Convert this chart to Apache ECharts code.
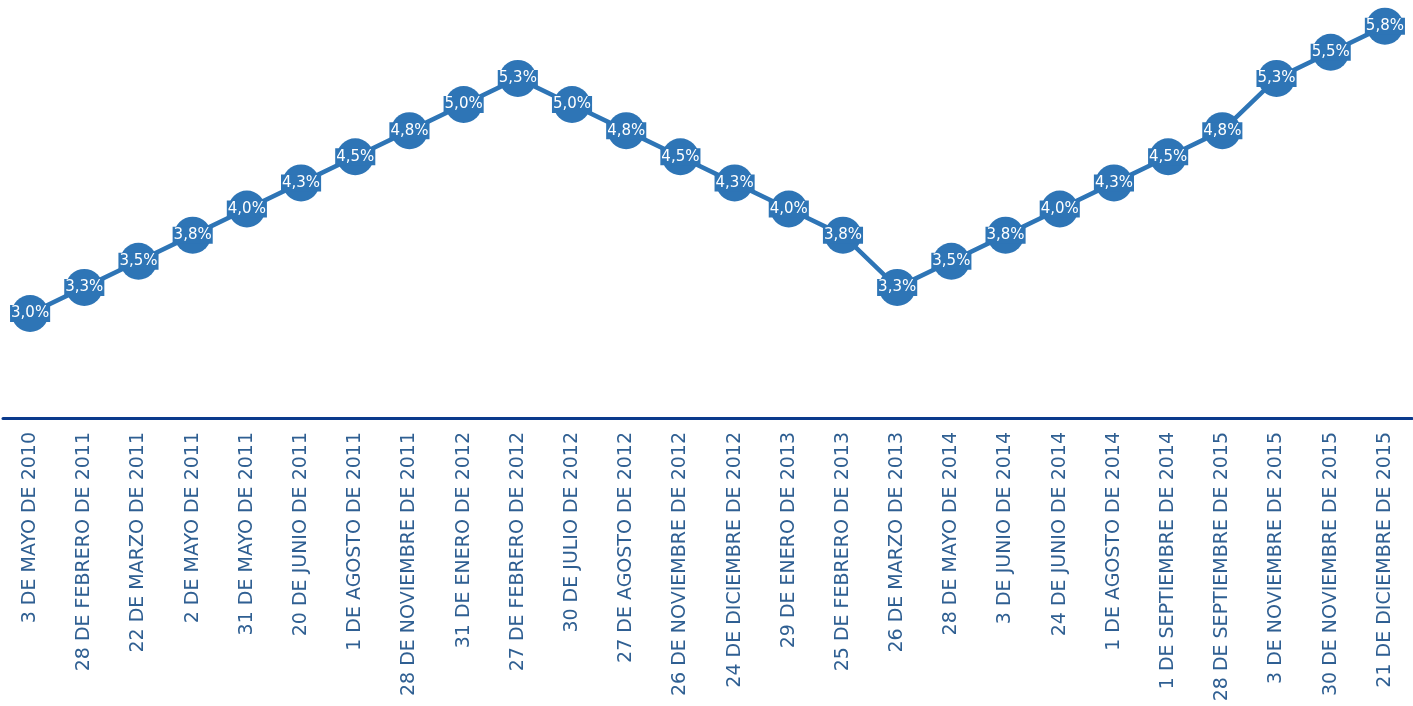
<!DOCTYPE html>
<html>
<head>
    <meta charset="utf-8">
    <title>Tasa</title>
    <script src="https://cdn.jsdelivr.net/npm/echarts@6/dist/echarts.min.js"></script>
    <style>
        html, body { margin: 0; padding: 0; background: #fff; }
        #chart { width: 1413px; height: 706px; }
    </style>
</head>
<body>
    <div id="chart"></div>
    <script type="text/javascript">
        var categories = [
            '3 DE MAYO DE 2010', '28 DE FEBRERO DE 2011', '22 DE MARZO DE 2011', '2 DE MAYO DE 2011',
            '31 DE MAYO DE 2011', '20 DE JUNIO DE 2011', '1 DE AGOSTO DE 2011', '28 DE NOVIEMBRE DE 2011',
            '31 DE ENERO DE 2012', '27 DE FEBRERO DE 2012', '30 DE JULIO DE 2012', '27 DE AGOSTO DE 2012',
            '26 DE NOVIEMBRE DE 2012', '24 DE DICIEMBRE DE 2012', '29 DE ENERO DE 2013', '25 DE FEBRERO DE 2013',
            '26 DE MARZO DE 2013', '28 DE MAYO DE 2014', '3 DE JUNIO DE 2014', '24 DE JUNIO DE 2014',
            '1 DE AGOSTO DE 2014', '1 DE SEPTIEMBRE DE 2014', '28 DE SEPTIEMBRE DE 2015', '3 DE NOVIEMBRE DE 2015',
            '30 DE NOVIEMBRE DE 2015', '21 DE DICIEMBRE DE 2015'
        ];
        var tasa = [
            3.0, 3.25, 3.5, 3.75, 4.0, 4.25, 4.5, 4.75, 5.0, 5.25,
            5.0, 4.75, 4.5, 4.25, 4.0, 3.75, 3.25, 3.5, 3.75, 4.0,
            4.25, 4.5, 4.75, 5.25, 5.5, 5.75
        ];

        var myChart = echarts.init(document.getElementById('chart'));
        var azul = '#2E75B6';

        var option = {
            animation: false,
            grid: { left: 3, right: 1, top: 0, bottom: 288, containLabel: false },
            xAxis: {
                type: 'category',
                data: categories,
                boundaryGap: true,
                axisLine: { lineStyle: { color: '#0B3A8C', width: 3 } },
                axisTick: { show: false },
                axisLabel: {
                    rotate: 90,
                    interval: 0,
                    margin: 14,
                    color: '#2F5F92',
                    fontSize: 19,
                    fontFamily: '"DejaVu Sans", sans-serif'
                }
            },
            yAxis: {
                type: 'value',
                min: 2,
                max: 6,
                show: false,
                splitLine: { show: false }
            },
            series: [{
                type: 'line',
                data: tasa,
                symbol: 'circle',
                symbolSize: 37,
                lineStyle: { color: azul, width: 4.5 },
                itemStyle: { color: azul },
                label: {
                    show: true,
                    position: 'inside',
                    color: '#fff',
                    fontSize: 15,
                    fontFamily: '"DejaVu Sans", sans-serif',
                    backgroundColor: azul,
                    padding: [1, 1],
                    formatter: function (p) {
                        return p.value.toFixed(1).replace('.', ',') + '%';
                    }
                }
            }]
        };
        myChart.setOption(option);
    </script>
</body>
</html>
